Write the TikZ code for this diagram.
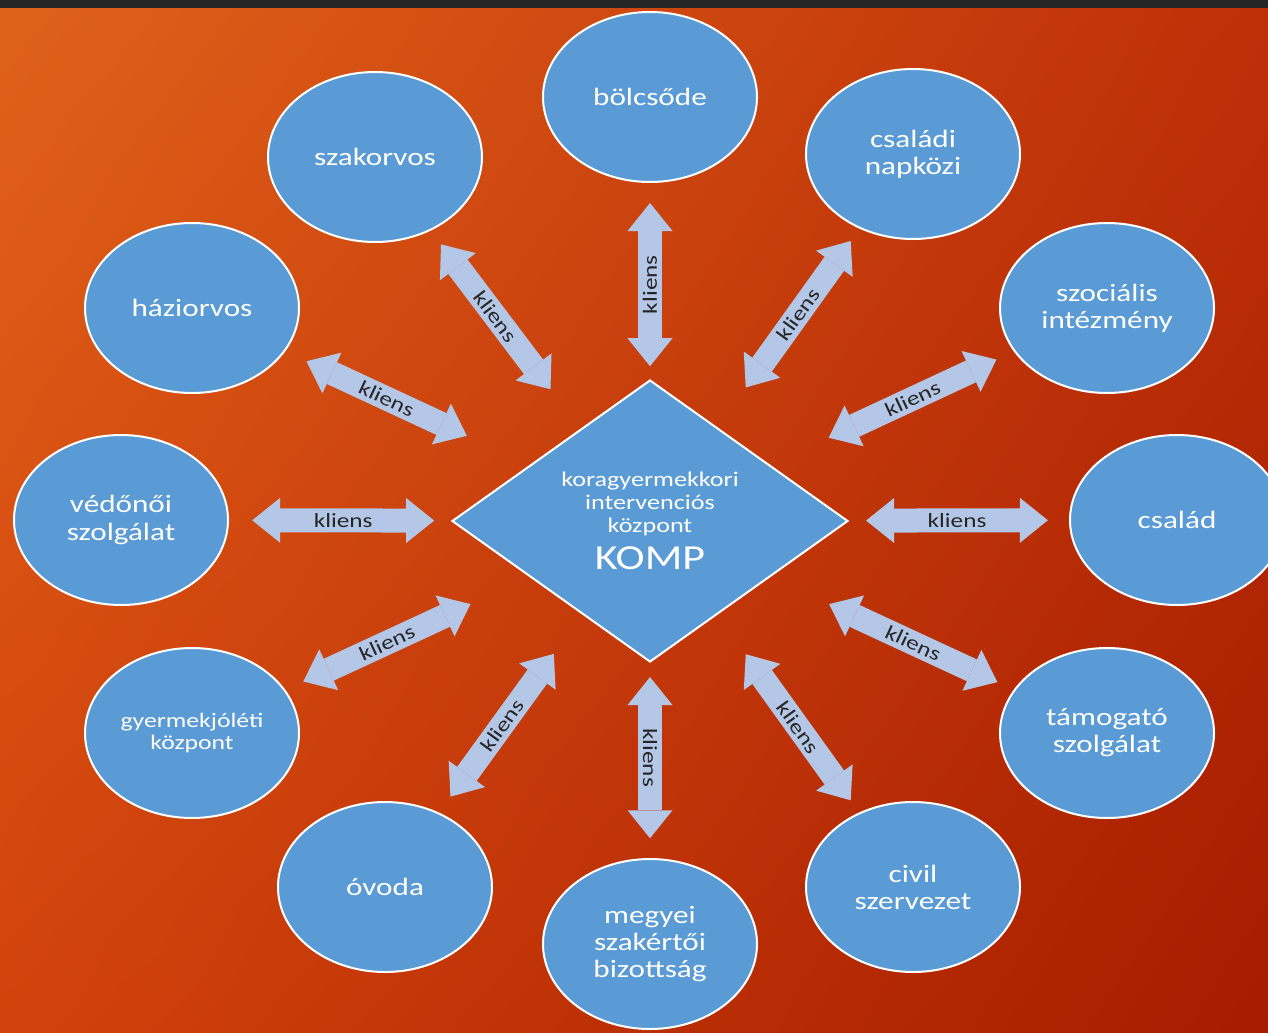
\documentclass[tikz,border=0pt]{standalone}
\usepackage{fontspec}
\setmainfont{Carlito}[FakeStretch=1.25]
\usetikzlibrary{shapes.geometric, arrows.meta, calc, shadings}
\definecolor{korkek}{HTML}{5B9BD5}
\definecolor{nyilkek}{HTML}{B4C7E7}
\definecolor{feliratszin}{HTML}{262626}
\definecolor{hatterBF}{RGB}{224,98,26}
\definecolor{hatterJF}{RGB}{190,48,8}
\definecolor{hatterBA}{RGB}{210,66,12}
\definecolor{hatterJA}{RGB}{165,28,0}
\begin{document}
\begin{tikzpicture}[x=0.2mm, y=-0.2mm,
	kor style/.style={ellipse, draw=white, line width=0.4mm, fill=korkek, text=white, inner sep=0pt, minimum width=42.8mm, minimum height=34mm, align=center, font=\fontsize{14.2}{15.4}\selectfont},
	rombusz style/.style={diamond, draw=white, line width=0.4mm, fill=korkek, text=white, inner sep=0pt, minimum width=79.2mm, minimum height=56.4mm, align=center, font=\fontsize{11.9}{13}\selectfont},
	nyil style/.style={draw=nyilkek, line width=4.8mm, {Triangle[length=5.6mm, width=9mm, line width=0pt]}-{Triangle[length=5.6mm, width=9mm, line width=0pt]}},
	felirat style/.style={midway, sloped, text=feliratszin, inner sep=0pt, font=\fontsize{11.5}{12}\selectfont}]
	\useasboundingbox (0,0) rectangle (1268,1032);
	\clip (0,0) rectangle (1268,1032);
	% hatter
	\shade[upper left=hatterBF, upper right=hatterJF, lower left=hatterBA, lower right=hatterJA] (0,0) rectangle (1268,1032);
	\fill[black!85] (0,0) rectangle (1268,8);
	% kozpont
	\node[rombusz style] (K) at (650,521) {koragyermekkori\\intervenciós\\központ\\[5pt]{\fontsize{20}{20}\selectfont KOMP}};
	% partnerek
	\node[kor style] (E1) at (650,97) {bölcsőde};
	\node[kor style] (E2) at (375,157) {szakorvos};
	\node[kor style] (E3) at (913,154) {családi\\napközi};
	\node[kor style] (E4) at (192,308) {háziorvos};
	\node[kor style] (E5) at (1107,308) {szociális\\intézmény};
	\node[kor style] (E6) at (121,520) {védőnői\\szolgálat};
	\node[kor style] (E7) at (1177,520) {család};
	\node[kor style, font=\fontsize{11.7}{13}\selectfont] (E8) at (192,733) {gyermekjóléti\\központ};
	\node[kor style] (E9) at (1107,733) {támogató\\szolgálat};
	\node[kor style] (E10) at (385,887) {óvoda};
	\node[kor style] (E11) at (650,944) {megyei\\szakértői\\bizottság};
	\node[kor style] (E12) at (913,887) {civil\\szervezet};
	% nyilak
	\foreach \x/\a/\b in {1/0.635/0.25, 2/0.24/0.638, 3/0.237/0.636, 4/0.25/0.6, 5/0.242/0.609, 6/0.248/0.592, 7/0.245/0.59, 8/0.243/0.608, 9/0.24/0.608, 10/0.247/0.637, 11/0.631/0.25, 12/0.237/0.636}
	\draw[nyil style] ($(E\x)!\a!(K)$) -- ($(E\x)!\b!(K)$) node[felirat style] {kliens};
\end{tikzpicture}
\end{document}
